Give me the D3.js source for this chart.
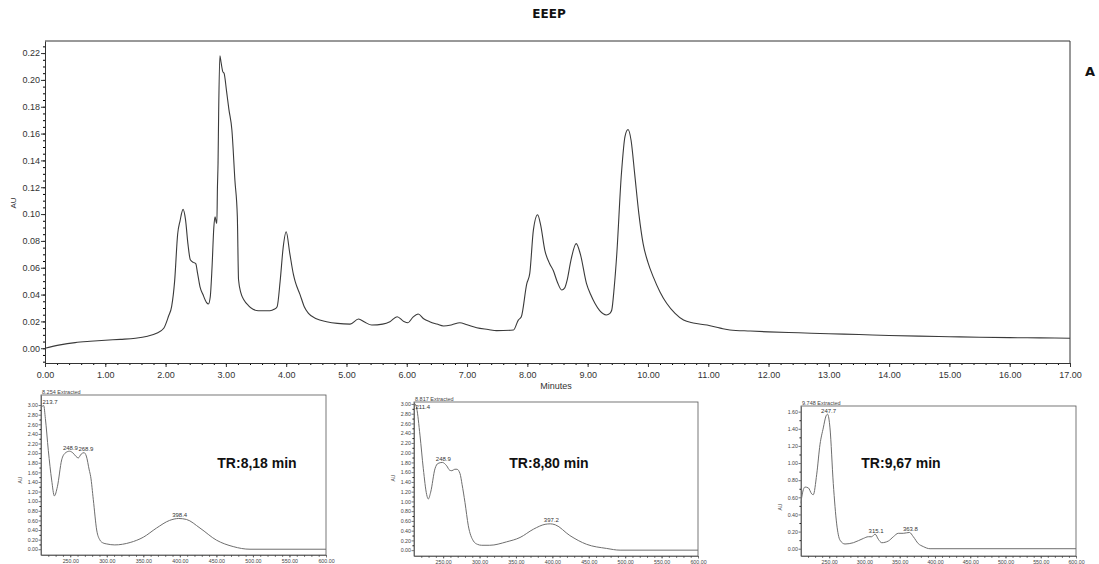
<!DOCTYPE html>
<html>
<head>
<meta charset="utf-8">
<script src="https://cdn.jsdelivr.net/npm/d3@7"></script>
<style>
body { margin: 0; background: #fff; }
svg { display: block; }
text { font-family: Arial, "Liberation Sans", sans-serif; fill: #333; }
</style>
</head>
<body>
<svg id="chart" width="1099" height="564"></svg>
<script>
// chromatogram EEEP (minutes, AU)
var chromTime = [0.00, 0.25, 0.50, 0.75, 1.00, 1.25, 1.50, 1.70, 1.85, 1.97, 2.05, 2.10, 2.15, 2.20, 2.24, 2.29, 2.33, 2.37, 2.41, 2.46,
    2.50, 2.53, 2.57, 2.62, 2.68, 2.71, 2.74, 2.77, 2.80, 2.82, 2.84, 2.85, 2.86, 2.87, 2.88, 2.90, 2.92, 2.95, 2.97, 3.01,
    3.05, 3.10, 3.15, 3.19, 3.21, 3.25, 3.30, 3.37, 3.45, 3.54, 3.73, 3.80, 3.85, 3.90, 3.95, 4.00, 4.06, 4.12, 4.15, 4.23,
    4.30, 4.37, 4.50, 4.67, 4.85, 5.06, 5.20, 5.30, 5.42, 5.60, 5.72, 5.84, 5.95, 6.02, 6.10, 6.19, 6.28, 6.38, 6.50, 6.61,
    6.75, 6.88, 7.00, 7.16, 7.35, 7.49, 7.77, 7.85, 7.90, 7.99, 8.04, 8.10, 8.17, 8.22, 8.29, 8.37, 8.43, 8.50, 8.57, 8.62,
    8.66, 8.72, 8.81, 8.88, 8.98, 9.05, 9.12, 9.20, 9.31, 9.37, 9.40, 9.44, 9.48, 9.56, 9.62, 9.67, 9.72, 9.78, 9.85, 9.92,
    10.00, 10.09, 10.20, 10.31, 10.45, 10.59, 10.75, 10.98, 11.20, 11.36, 11.70, 12.00, 12.50, 13.00, 13.50, 14.00, 14.50, 15.00, 15.50, 16.00,
    16.50, 17.00];
var chromAU = [0.000, 0.0025, 0.0042, 0.0052, 0.0060, 0.0066, 0.0074, 0.0090, 0.0112, 0.0149, 0.024, 0.031, 0.050, 0.085, 0.095, 0.1035, 0.096, 0.078, 0.066, 0.064,
    0.063, 0.056, 0.046, 0.040, 0.034, 0.033, 0.038, 0.060, 0.090, 0.098, 0.094, 0.093, 0.120, 0.138, 0.175, 0.218, 0.213, 0.206, 0.205, 0.192,
    0.178, 0.1625, 0.125, 0.098, 0.051, 0.041, 0.036, 0.032, 0.029, 0.028, 0.028, 0.029, 0.031, 0.050, 0.075, 0.0868, 0.0707, 0.055, 0.0496, 0.040,
    0.031, 0.026, 0.022, 0.0198, 0.0185, 0.018, 0.0218, 0.0195, 0.0173, 0.018, 0.0198, 0.0235, 0.0200, 0.019, 0.023, 0.0255, 0.022, 0.0198, 0.018, 0.0166,
    0.0175, 0.0190, 0.0175, 0.0153, 0.0140, 0.0131, 0.0136, 0.021, 0.0235, 0.048, 0.0558, 0.088, 0.0995, 0.092, 0.073, 0.063, 0.058, 0.049, 0.0434, 0.045,
    0.0508, 0.065, 0.078, 0.070, 0.0484, 0.040, 0.0335, 0.028, 0.0248, 0.026, 0.0285, 0.045, 0.068, 0.130, 0.158, 0.163, 0.155, 0.130, 0.100, 0.078,
    0.064, 0.053, 0.042, 0.0335, 0.026, 0.021, 0.0188, 0.0173, 0.0150, 0.0136, 0.0128, 0.0122, 0.0115, 0.0108, 0.0102, 0.0095, 0.0090, 0.0086, 0.0082, 0.0079,
    0.0077, 0.0075];
var timeTicks = d3.range(0, 18, 1);
var auTicks = d3.range(0, 0.2201, 0.02);

// UV spectra (nm, AU)
var spec1Wl = [210, 213.7, 216, 220, 224.6, 228.3, 232.4, 238.3, 243, 248.9, 254, 258, 261, 265, 268.9, 272, 276, 278, 281.6, 286.2,
    290.7, 295, 300, 311, 332, 350, 368, 386, 398.4, 409, 427.6, 450, 473, 496, 600];
var spec1Au = [2.95, 2.99, 2.72, 2.06, 1.44, 1.11, 1.30, 1.86, 2.00, 2.04, 2.00, 1.93, 1.90, 1.98, 2.01, 1.94, 1.65, 1.51, 1.03, 0.40,
    0.19, 0.13, 0.11, 0.09, 0.14, 0.25, 0.44, 0.60, 0.64, 0.62, 0.44, 0.19, 0.055, 0.0, 0.0];
var spec1Peaks = [213.7, 248.9, 268.9, 398.4];

var spec2Wl = [210, 211.4, 213.7, 218.2, 222.8, 227.4, 229.6, 232.9, 238.8, 243, 248.9, 254.9, 259, 262, 266, 269, 273.2, 276, 280, 284.6,
    291.5, 297, 303, 314, 337, 355.6, 374, 390, 397.2, 404, 424, 447, 474.6, 493, 600];
var spec2Au = [2.98, 3.00, 2.91, 2.36, 1.67, 1.14, 1.05, 1.19, 1.67, 1.78, 1.80, 1.73, 1.64, 1.63, 1.66, 1.66, 1.57, 1.35, 0.98, 0.50,
    0.19, 0.12, 0.10, 0.10, 0.17, 0.26, 0.43, 0.53, 0.54, 0.52, 0.30, 0.12, 0.035, 0.0, 0.0];
var spec2Peaks = [211.4, 248.9, 397.2];

var spec3Wl = [210, 211, 215.7, 220.4, 225.2, 227.4, 232.3, 237, 241.6, 245.5, 247.7, 251.1, 255.8, 260.6, 265.3, 272.4, 284.2, 298.4, 305.5, 310.2,
    315.1, 319.7, 324.5, 333.9, 341, 348, 355, 363.8, 369.3, 376.3, 383.4, 393, 600];
var spec3Au = [0.53, 0.60, 0.72, 0.71, 0.64, 0.63, 0.87, 1.22, 1.41, 1.55, 1.57, 1.41, 0.76, 0.29, 0.10, 0.055, 0.07, 0.12, 0.14, 0.14,
    0.17, 0.11, 0.07, 0.09, 0.14, 0.18, 0.18, 0.19, 0.14, 0.06, 0.025, 0.0, 0.0];
var spec3Peaks = [247.7, 315.1, 363.8];

var specTitles = ["8.254 Extracted", "8.817 Extracted", "9.748 Extracted"];
var retention = ["TR:8,18 min", "TR:8,80 min", "TR:9,67 min"];
var wlTicks = d3.range(250, 601, 50);

var svg = d3.select("#chart");

// ---- main chromatogram ----
var m = { l: 45, r: 1070, t: 41, b: 363 };
var x = d3.scaleLinear().domain([0, 17]).range([m.l, m.r]);
var y = d3.scaleLinear().domain([-0.011, 0.229]).range([m.b, m.t]);

svg.append("text").attr("x", 549).attr("y", 18).attr("text-anchor", "middle")
    .style("font-family", "'DejaVu Sans', Verdana, sans-serif").style("font-weight", "bold")
    .style("font-size", "12px").style("fill", "#111").text("EEEP");
svg.append("text").attr("x", 1090).attr("y", 76).attr("text-anchor", "middle")
    .style("font-family", "'DejaVu Sans', Verdana, sans-serif").style("font-weight", "bold")
    .style("font-size", "13px").style("fill", "#111").text("A");

// minor ticks first
svg.append("g").attr("transform", `translate(0,${m.b})`)
    .call(d3.axisBottom(x).tickValues(d3.range(0, 17.01, 0.2)).tickSize(2).tickSizeOuter(0).tickFormat(""))
    .call(g => g.select(".domain").remove());
svg.append("g").attr("transform", `translate(${m.l},0)`)
    .call(d3.axisLeft(y).tickValues(d3.range(-0.01, 0.2251, 0.005)).tickSize(2).tickSizeOuter(0).tickFormat(""))
    .call(g => g.select(".domain").remove());

var xAxis = svg.append("g").attr("transform", `translate(0,${m.b})`)
    .call(d3.axisBottom(x).tickValues(timeTicks).tickFormat(d => d.toFixed(2)).tickSize(4).tickSizeOuter(0));
var yAxis = svg.append("g").attr("transform", `translate(${m.l},0)`)
    .call(d3.axisLeft(y).tickValues(auTicks).tickFormat(d => d.toFixed(2)).tickSize(4).tickSizeOuter(0));
[xAxis, yAxis].forEach(a => {
    a.selectAll("text").style("font-size", "9px").style("fill", "#333");
    a.selectAll("line,path").attr("stroke", "#333");
});
xAxis.selectAll("text").attr("dy", "0.9em");
yAxis.selectAll("text").attr("x", -5);

// top and right frame
svg.append("path").attr("d", `M${m.l},${m.t}H${m.r}V${m.b}`).attr("fill", "none").attr("stroke", "#333");

svg.append("text").attr("x", 556).attr("y", 389).attr("text-anchor", "middle")
    .style("font-size", "9px").text("Minutes");
svg.append("text").attr("transform", "translate(16,203) rotate(-90)").attr("text-anchor", "middle")
    .style("font-size", "8px").text("AU");

var chromLine = d3.line().curve(d3.curveMonotoneX).x((d, i) => x(chromTime[i])).y(d => y(d));
svg.append("path").datum(chromAU).attr("d", chromLine)
    .attr("fill", "none").attr("stroke", "#3a3a3a").attr("stroke-width", 1.1);

// ---- spectra ----
var panels = [
    { l: 41, r: 326, t: 395, b: 555, ymin: -0.12, ymax: 3.21, ymaxTick: 3.0, ax: 22, ay: 480, tr: 257, wl: spec1Wl, au: spec1Au, pk: spec1Peaks },
    { l: 414, r: 698, t: 402, b: 556, ymin: -0.12, ymax: 3.04, ymaxTick: 3.0, ax: 395, ay: 478, tr: 549, wl: spec2Wl, au: spec2Au, pk: spec2Peaks },
    { l: 801, r: 1076, t: 406, b: 556, ymin: -0.085, ymax: 1.666, ymaxTick: 1.6, ax: 782, ay: 507, tr: 901, wl: spec3Wl, au: spec3Au, pk: spec3Peaks }
];

panels.forEach((p, k) => {
    var sx = d3.scaleLinear().domain([210, 600]).range([p.l, p.r]);
    var sy = d3.scaleLinear().domain([p.ymin, p.ymax]).range([p.b, p.t]);
    var g = svg.append("g");

    g.append("g").attr("transform", `translate(0,${p.b})`)
        .call(d3.axisBottom(sx).tickValues(d3.range(220, 600, 10)).tickSize(1.5).tickFormat(""))
        .call(a => a.select(".domain").remove());
    var ax = g.append("g").attr("transform", `translate(0,${p.b})`)
        .call(d3.axisBottom(sx).tickValues(wlTicks).tickSize(2.5).tickSizeOuter(0).tickFormat(d => d.toFixed(2)));
    var ay = g.append("g").attr("transform", `translate(${p.l},0)`)
        .call(d3.axisLeft(sy).tickValues(d3.range(0, p.ymaxTick + 0.001, 0.2)).tickSize(2.5).tickSizeOuter(0).tickFormat(d => d.toFixed(2)));
    g.append("g").attr("transform", `translate(${p.l},0)`)
        .call(d3.axisLeft(sy).tickValues(d3.range(0.1, p.ymaxTick, 0.2)).tickSize(1.5).tickFormat(""))
        .call(a => a.select(".domain").remove());
    [ax, ay].forEach(a => {
        a.selectAll("text").style("font-size", "5.3px").style("fill", "#444");
        a.selectAll("line,path").attr("stroke", "#555").attr("stroke-width", 0.8);
    });
    ax.selectAll("text").attr("dy", "0.8em").attr("y", 3.5);
    ay.selectAll("text").attr("x", -3);

    g.append("rect").attr("x", p.l).attr("y", p.t).attr("width", p.r - p.l).attr("height", p.b - p.t)
        .attr("fill", "none").attr("stroke", "#555").attr("stroke-width", 0.8);

    g.append("text").attr("x", p.l + 1).attr("y", p.t - 1.5).style("font-size", "5.5px").style("fill", "#444")
        .text(specTitles[k]);
    g.append("text").attr("transform", `translate(${p.ax},${p.ay}) rotate(-90)`).attr("text-anchor", "middle")
        .style("font-size", "5px").style("fill", "#444").text("AU");

    var specLine = d3.line().curve(d3.curveMonotoneX).x((d, i) => sx(p.wl[i])).y(d => sy(d));
    g.append("path").datum(p.au).attr("d", specLine)
        .attr("fill", "none").attr("stroke", "#6e6e6e").attr("stroke-width", 1);

    // peak labels, kept inside the frame and clear of each other
    var lastRight = -Infinity;
    p.pk.forEach(w => {
        var v = p.au[p.wl.indexOf(w)];
        var t = g.append("text").attr("y", Math.max(sy(v) - 1.5, p.t + 6.5))
            .style("font-size", "6px").style("fill", "#333")
            .text(w.toFixed(1));
        var tw = t.node().getComputedTextLength();
        var left = sx(w) + 1 - tw / 2;
        left = Math.max(left, p.l + 1.5, lastRight + 0.5);
        t.attr("x", left);
        lastRight = left + tw;
    });

    g.append("text").attr("x", p.tr).attr("y", 468).attr("text-anchor", "middle")
        .style("font-size", "14px").style("font-weight", "bold").style("fill", "#111")
        .text(retention[k]);
});
</script>
</body>
</html>
